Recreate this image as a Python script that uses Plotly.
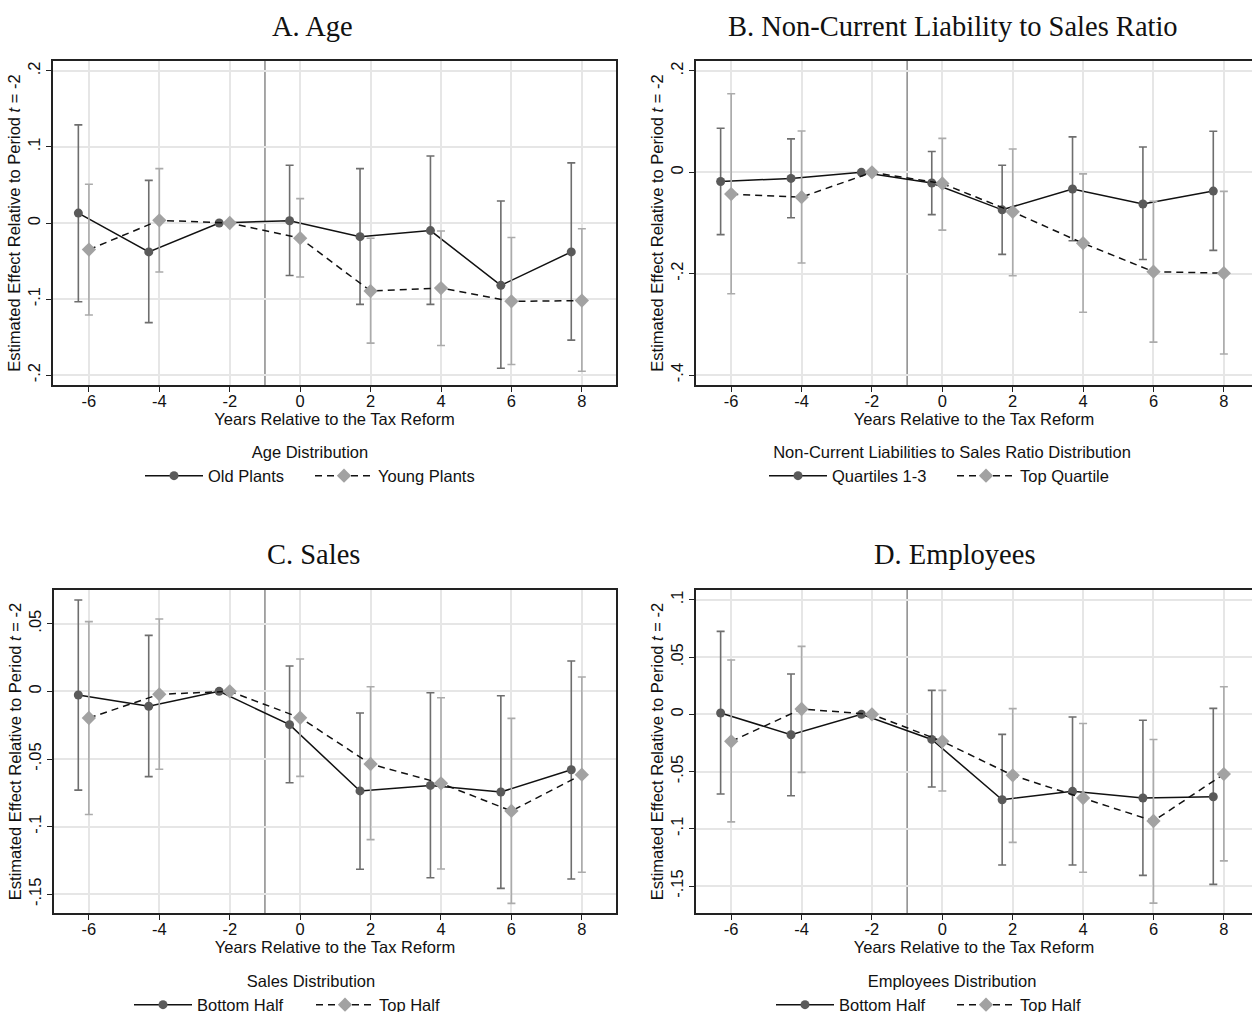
import plotly.graph_objects as go
from plotly.subplots import make_subplots

# ---------------- data ----------------
t = [-6, -4, -2, 0, 2, 4, 6, 8]

# Panel A: Age
a_old = [0.013, -0.038, 0, 0.003, -0.018, -0.010, -0.082, -0.038]
a_old_hi = [0.129, 0.056, None, 0.076, 0.0715, 0.088, 0.029, 0.079]
a_old_lo = [-0.1035, -0.131, None, -0.069, -0.107, -0.107, -0.191, -0.154]
a_young = [-0.035, 0.0035, 0, -0.020, -0.0895, -0.0855, -0.103, -0.102]
a_young_hi = [0.051, 0.0715, None, 0.032, -0.020, -0.0105, -0.019, -0.0075]
a_young_lo = [-0.121, -0.0645, None, -0.071, -0.158, -0.161, -0.186, -0.195]

# Panel B: Non-current liability to sales ratio
b_q13 = [-0.018, -0.012, 0, -0.021, -0.074, -0.033, -0.0625, -0.037]
b_q13_hi = [0.087, 0.066, None, 0.041, 0.014, 0.070, 0.050, 0.081]
b_q13_lo = [-0.123, -0.0895, None, -0.0835, -0.162, -0.135, -0.172, -0.154]
b_top = [-0.043, -0.049, 0, -0.022, -0.078, -0.140, -0.196, -0.199]
b_top_hi = [0.155, 0.0815, None, 0.067, 0.046, -0.003, -0.057, -0.0375]
b_top_lo = [-0.2395, -0.179, None, -0.114, -0.204, -0.276, -0.335, -0.3585]

# Panel C: Sales
c_bot = [-0.0027, -0.011, 0, -0.0246, -0.0736, -0.0695, -0.0744, -0.0579]
c_bot_hi = [0.0675, 0.0414, None, 0.0187, -0.016, -0.001, -0.0032, 0.0224]
c_bot_lo = [-0.073, -0.063, None, -0.0675, -0.1315, -0.1377, -0.1456, -0.1387]
c_top = [-0.0197, -0.0022, 0, -0.0195, -0.0537, -0.068, -0.0884, -0.0616]
c_top_hi = [0.0515, 0.0535, None, 0.0239, 0.0034, -0.0047, -0.020, 0.0106]
c_top_lo = [-0.091, -0.0576, None, -0.0628, -0.1096, -0.1313, -0.1567, -0.1337]

# Panel D: Employees
d_bot = [0.0012, -0.0178, 0, -0.0219, -0.0746, -0.0673, -0.0731, -0.072]
d_bot_hi = [0.0725, 0.0353, None, 0.021, -0.0175, -0.0023, -0.0052, 0.0052]
d_bot_lo = [-0.0696, -0.0711, None, -0.0635, -0.1317, -0.1317, -0.1407, -0.1486]
d_top = [-0.0236, 0.0047, 0, -0.0236, -0.0533, -0.0731, -0.0932, -0.0522]
d_top_hi = [0.0475, 0.0594, None, 0.021, 0.005, -0.008, -0.0219, 0.0242]
d_top_lo = [-0.094, -0.0507, None, -0.067, -0.1119, -0.138, -0.165, -0.128]

titles = ["A. Age", "B. Non-Current Liability to Sales Ratio", "C. Sales", "D. Employees"]
legend_titles = ["Age Distribution", "Non-Current Liabilities to Sales Ratio Distribution",
                 "Sales Distribution", "Employees Distribution"]
names1 = ["Old Plants", "Quartiles 1-3", "Bottom Half", "Bottom Half"]
names2 = ["Young Plants", "Top Quartile", "Top Half", "Top Half"]

x_ticks = [-6, -4, -2, 0, 2, 4, 6, 8]
y_tickvals = [
    [0.2, 0.1, 0, -0.1, -0.2],
    [0.2, 0, -0.2, -0.4],
    [0.05, 0, -0.05, -0.1, -0.15],
    [0.1, 0.05, 0, -0.05, -0.1, -0.15],
]
y_ticktext = [
    [".2", ".1", "0", "-.1", "-.2"],
    [".2", "0", "-.2", "-.4"],
    [".05", "0", "-.05", "-.1", "-.15"],
    [".1", ".05", "0", "-.05", "-.1", "-.15"],
]

panels = [
    (a_old, a_old_hi, a_old_lo, a_young, a_young_hi, a_young_lo),
    (b_q13, b_q13_hi, b_q13_lo, b_top, b_top_hi, b_top_lo),
    (c_bot, c_bot_hi, c_bot_lo, c_top, c_top_hi, c_top_lo),
    (d_bot, d_bot_hi, d_bot_lo, d_top, d_top_hi, d_top_lo),
]

# ---------------- layout geometry ----------------
W = 1252
H = 1045  # slightly taller than the viewport so the bottom legends fit; overflow hidden
def px_x(p):
    return p / W
def px_y(p):
    return 1 - p / H

x_domains = [(53, 616), (696, 1252), (54, 616), (696, 1252)]
y_domains = [(61, 385), (61, 385), (590, 913), (590, 913)]
x_ranges = [[-7.02, 8.97], [-7.0, 8.8], [-6.99, 8.97], [-7.0, 8.8]]
y_ranges = [[-0.213, 0.213], [-0.4197, 0.2197], [-0.1638, 0.0749], [-0.1736, 0.1087]]
title_pos = [(312, 27), (953, 27), (313, 554), (954, 554)]
legend_pos = [(310, 437), (952, 437), (311, 966), (952, 966)]
entry_widths = [97, 115, 109, 108]

DARK = "#5a5a5a"
DARK_ERR = "#6e6e6e"
LIGHT = "#a2a2a2"
LIGHT_ERR = "#ababab"
GRID = "#e6e6e6"
REF = "#8a8a8a"
FONT = "Liberation Sans, Arial, sans-serif"
SERIF = "Liberation Serif, DejaVu Serif, serif"
FS = 16.5

fig = make_subplots(rows=2, cols=2)

def err(est, hi, lo):
    up = [None if h is None else h - e for e, h in zip(est, hi)]
    dn = [None if l is None else e - l for e, l in zip(est, lo)]
    return up, dn

offset = 0.3
for i, (s1, s1h, s1l, s2, s2h, s2l) in enumerate(panels):
    r, c = i // 2 + 1, i % 2 + 1
    leg = "legend" if i == 0 else f"legend{i + 1}"
    up1, dn1 = err(s1, s1h, s1l)
    up2, dn2 = err(s2, s2h, s2l)
    x1 = [v - offset for v in t]
    fig.add_trace(go.Scatter(
        x=x1, y=s1, mode="lines+markers", name=names1[i], legend=leg,
        line=dict(color="#111111", width=1.5),
        marker=dict(symbol="circle", size=9, color=DARK),
        error_y=dict(type="data", symmetric=False, array=up1, arrayminus=dn1,
                     color=DARK_ERR, thickness=1.6, width=4),
    ), row=r, col=c)
    fig.add_trace(go.Scatter(
        x=t, y=s2, mode="lines+markers", name=names2[i], legend=leg,
        line=dict(color="#111111", width=1.5, dash="7px,5px"),
        marker=dict(symbol="diamond", size=11, color=LIGHT),
        error_y=dict(type="data", symmetric=False, array=up2, arrayminus=dn2,
                     color=LIGHT_ERR, thickness=1.6, width=4),
    ), row=r, col=c)
    fig.add_hline(y=0, line=dict(color=REF, width=1.5), row=r, col=c, layer="below")
    fig.add_vline(x=-1, line=dict(color=REF, width=1.5), row=r, col=c, layer="below")

layout = dict(
    width=W, height=H, margin=dict(l=0, r=0, t=0, b=0),
    paper_bgcolor="white", plot_bgcolor="white",
    font=dict(family=FONT, size=FS, color="#111111"),
    annotations=[],
)
for i in range(4):
    xa = "xaxis" if i == 0 else f"xaxis{i + 1}"
    ya = "yaxis" if i == 0 else f"yaxis{i + 1}"
    full_box = i in (0, 2)
    layout[xa] = dict(
        domain=[px_x(x_domains[i][0]), px_x(x_domains[i][1])],
        range=x_ranges[i], tickvals=x_ticks, ticktext=[str(v) for v in x_ticks],
        showgrid=True, gridcolor=GRID, gridwidth=1.5, zeroline=False,
        showline=True, linecolor="#222222", linewidth=1.5, mirror=True,
        ticks="outside", ticklen=5, tickcolor="#222222", tickwidth=1.2,
        tickfont=dict(size=FS), ticklabelstandoff=-5,
        title=dict(text="Years Relative to the Tax Reform", font=dict(size=FS), standoff=1),
    )
    layout[ya] = dict(
        domain=[px_y(y_domains[i][1]), px_y(y_domains[i][0])],
        range=y_ranges[i], tickvals=y_tickvals[i], ticktext=y_ticktext[i],
        tickangle=-90,
        showgrid=True, gridcolor=GRID, gridwidth=1.5, zeroline=False,
        showline=True, linecolor="#222222", linewidth=1.5, mirror=full_box,
        ticks="outside", ticklen=5, tickcolor="#222222", tickwidth=1.2,
        tickfont=dict(size=FS),
        title=dict(text="Estimated Effect Relative to Period <i>t</i> = -2",
                   font=dict(size=FS), standoff=0),
    )
    leg = "legend" if i == 0 else f"legend{i + 1}"
    layout[leg] = dict(
        x=px_x(legend_pos[i][0]), y=px_y(legend_pos[i][1]),
        xanchor="center", yanchor="top", orientation="h",
        title=dict(text=legend_titles[i], side="top center", font=dict(size=FS)),
        font=dict(size=FS), bgcolor="rgba(0,0,0,0)", itemwidth=58,
        entrywidth=entry_widths[i], entrywidthmode="pixels",
    )
    layout["annotations"].append(dict(
        text=titles[i], x=px_x(title_pos[i][0]), y=px_y(title_pos[i][1]),
        xref="paper", yref="paper", xanchor="center", yanchor="middle",
        showarrow=False, font=dict(family=SERIF, size=28.5, color="#111111"),
    ))

fig.update_layout(**layout)

fig.write_html(
    "out.html", config={"displayModeBar": False},
    post_script="document.body.style.margin='0';document.body.style.overflow='hidden';"
                "document.documentElement.style.overflow='hidden';",
)
